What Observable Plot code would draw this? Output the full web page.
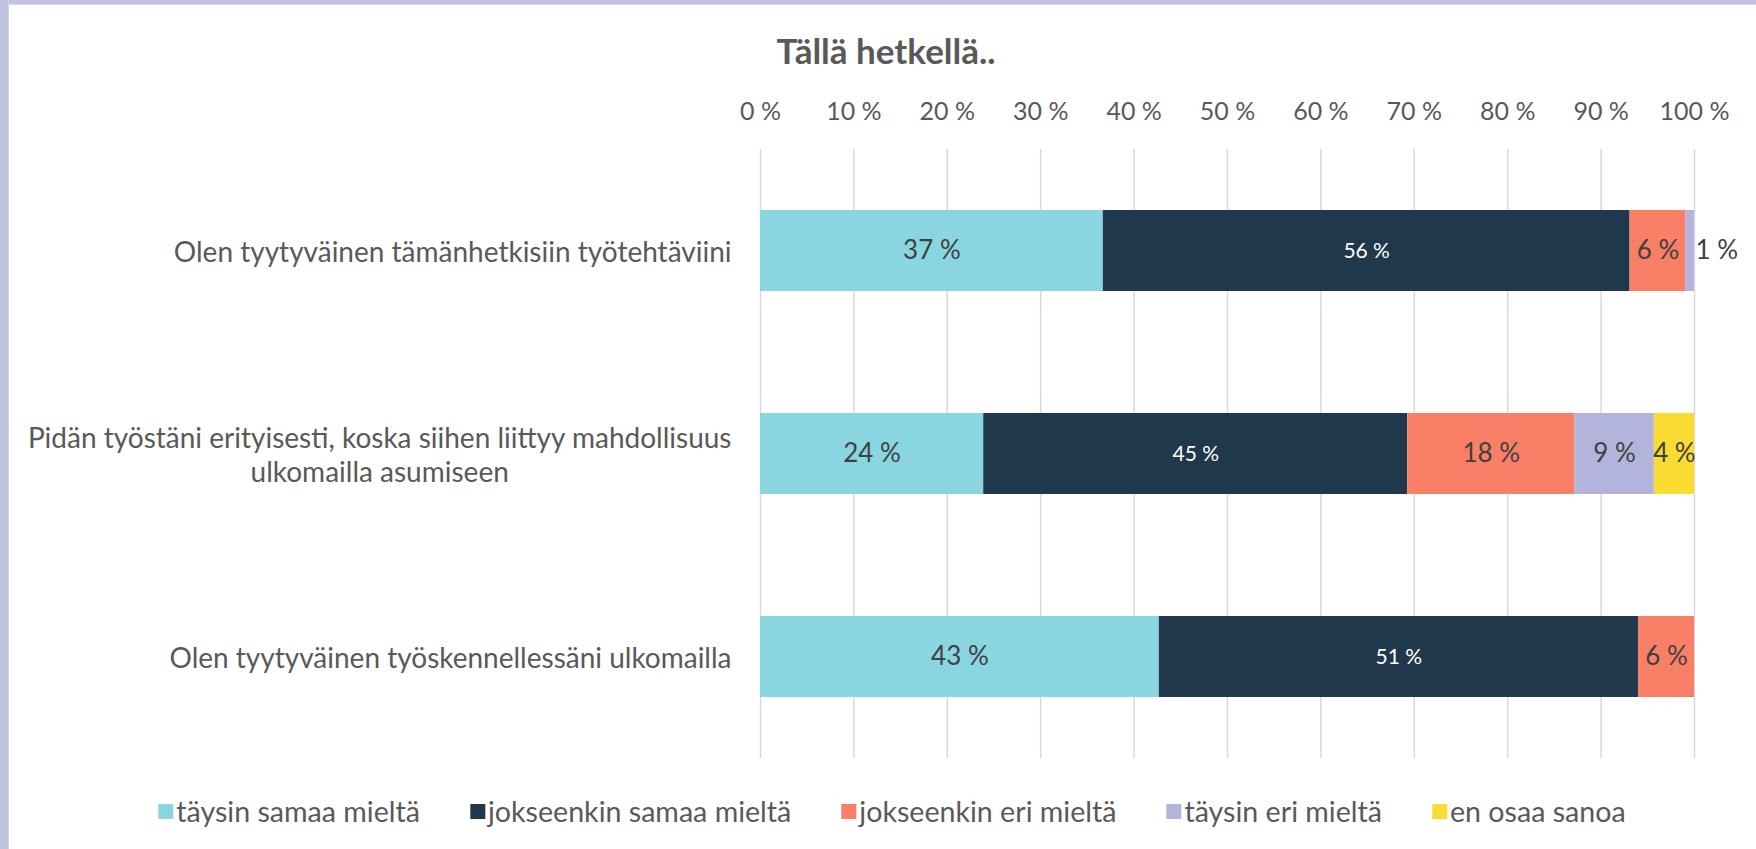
<!DOCTYPE html>
<html>
<head>
<meta charset="utf-8">
<script src="https://cdn.jsdelivr.net/npm/d3@7"></script>
<script src="https://cdn.jsdelivr.net/npm/@observablehq/plot@0.6"></script>
<style>
html,body{margin:0;padding:0;background:#fff;width:1756px;height:849px;overflow:hidden;font-family:Lato,"Open Sans",sans-serif;}
#wrap{position:relative;width:1756px;height:849px;}
.bl{position:absolute;left:0;top:0;width:8px;height:849px;background:#c0c2e2;border-right:1px solid #d4d4d4;z-index:2}
.bt{position:absolute;left:0;top:0;width:1756px;height:4px;background:#c0c2e2;border-bottom:1px solid #dcdcdc;z-index:2}
#title{position:absolute;top:29px;left:0;width:1772px;text-align:center;font-weight:bold;font-size:35px;color:#595959;line-height:42px}
#chart{position:absolute;top:80px;left:0}
#legend{position:absolute;top:793px;left:892px;transform:translateX(-50%);white-space:nowrap;display:flex;align-items:center;font-size:28.6px;color:#595959;line-height:36px}
.item{display:flex;align-items:center;margin:0 25px}
.sw{width:15px;height:15px;margin-right:3px;display:inline-block}
</style>
</head>
<body>
<div id="wrap">
  <div class="bt"></div>
  <div class="bl"></div>
  <div id="title">Tällä hetkellä..</div>
  <div id="chart"></div>
  <div id="legend"></div>
</div>
<script>
const categories = [
  "Olen tyytyväinen tämänhetkisiin työtehtäviini",
  "Pidän työstäni erityisesti, koska siihen liittyy mahdollisuus\nulkomailla asumiseen",
  "Olen tyytyväinen työskennellessäni ulkomailla"
];
const series = ["täysin samaa mieltä", "jokseenkin samaa mieltä", "jokseenkin eri mieltä", "täysin eri mieltä", "en osaa sanoa"];
const colors = ["#8AD6E0", "#1F384B", "#F97F67", "#B2B4DB", "#F9DB31"];
const taysinSamaa = [36.7, 23.9, 42.7];
const jokseenkinSamaa = [56.4, 45.4, 51.3];
const jokseenkinEri = [6.0, 17.9, 6.0];
const taysinEri = [0.9, 8.5, 0];
const enOsaa = [0, 4.3, 0];
const xTicks = [0, 10, 20, 30, 40, 50, 60, 70, 80, 90, 100];

const valuesBySeries = [taysinSamaa, jokseenkinSamaa, jokseenkinEri, taysinEri, enOsaa];
const rows = [];
categories.forEach((c, i) => {
  series.forEach((s, j) => {
    const v = valuesBySeries[j][i];
    if (v > 0) rows.push({category: c, series: s, value: v});
  });
});
const fmt = v => Math.round(v) + " %";
const dark = series[1];

const plot = Plot.plot({
  width: 1756,
  height: 700,
  marginTop: 69,
  marginBottom: 22,
  marginLeft: 760,
  marginRight: 62,
  style: {fontFamily: "Lato, 'Open Sans', sans-serif", color: "#595959", background: "transparent", overflow: "visible"},
  x: {domain: [0, 100]},
  y: {domain: categories, axis: null, paddingInner: 0.6, paddingOuter: 0.3},
  color: {domain: series, range: colors},
  marks: [
    Plot.gridX(xTicks, {stroke: "#d9d9d9", strokeOpacity: 1, strokeWidth: 1.5}),
    Plot.axisX(xTicks, {anchor: "top", tickSize: 0, tickPadding: 30, tickFormat: d => d + " %", fontSize: 25, label: null}),
    Plot.barX(rows, Plot.stackX({x: "value", y: "category", z: "series", fill: "series"})),
    Plot.text(rows, Plot.stackX({x: "value", y: "category", z: "series",
      text: d => (d.value >= 2 && d.series !== dark) ? fmt(d.value) : "", fill: "#404040", fontSize: 26})),
    Plot.text(rows, Plot.stackX({x: "value", y: "category", z: "series",
      text: d => d.series === dark ? fmt(d.value) : "", fill: "white", fontSize: 21})),
    Plot.text(rows, Plot.stackX2({x: "value", y: "category", z: "series",
      text: d => d.value < 2 ? fmt(d.value) : "", textAnchor: "start", dx: 1, fill: "#404040", fontSize: 26})),
    Plot.text(categories, {y: d => d, text: d => d, frameAnchor: "left", dx: -29, textAnchor: "end",
      fontSize: 28, fill: "#595959", lineHeight: 1.2, className: "catlabels"})
  ]
});
document.getElementById("chart").appendChild(plot);

// center multi-line category labels (Excel-style), keeping their right edge in place
plot.querySelectorAll("g.catlabels text").forEach(t => {
  const w = t.getBBox().width;
  t.setAttribute("text-anchor", "middle");
  t.setAttribute("transform", (t.getAttribute("transform") || "") + ` translate(${-w / 2},0)`);
});

const legend = document.getElementById("legend");
series.forEach((s, i) => {
  const item = document.createElement("div");
  item.className = "item";
  const sw = document.createElement("span");
  sw.className = "sw";
  sw.style.background = colors[i];
  item.appendChild(sw);
  const lab = document.createElement("span");
  lab.textContent = s;
  item.appendChild(lab);
  legend.appendChild(item);
});
</script>
</body>
</html>
